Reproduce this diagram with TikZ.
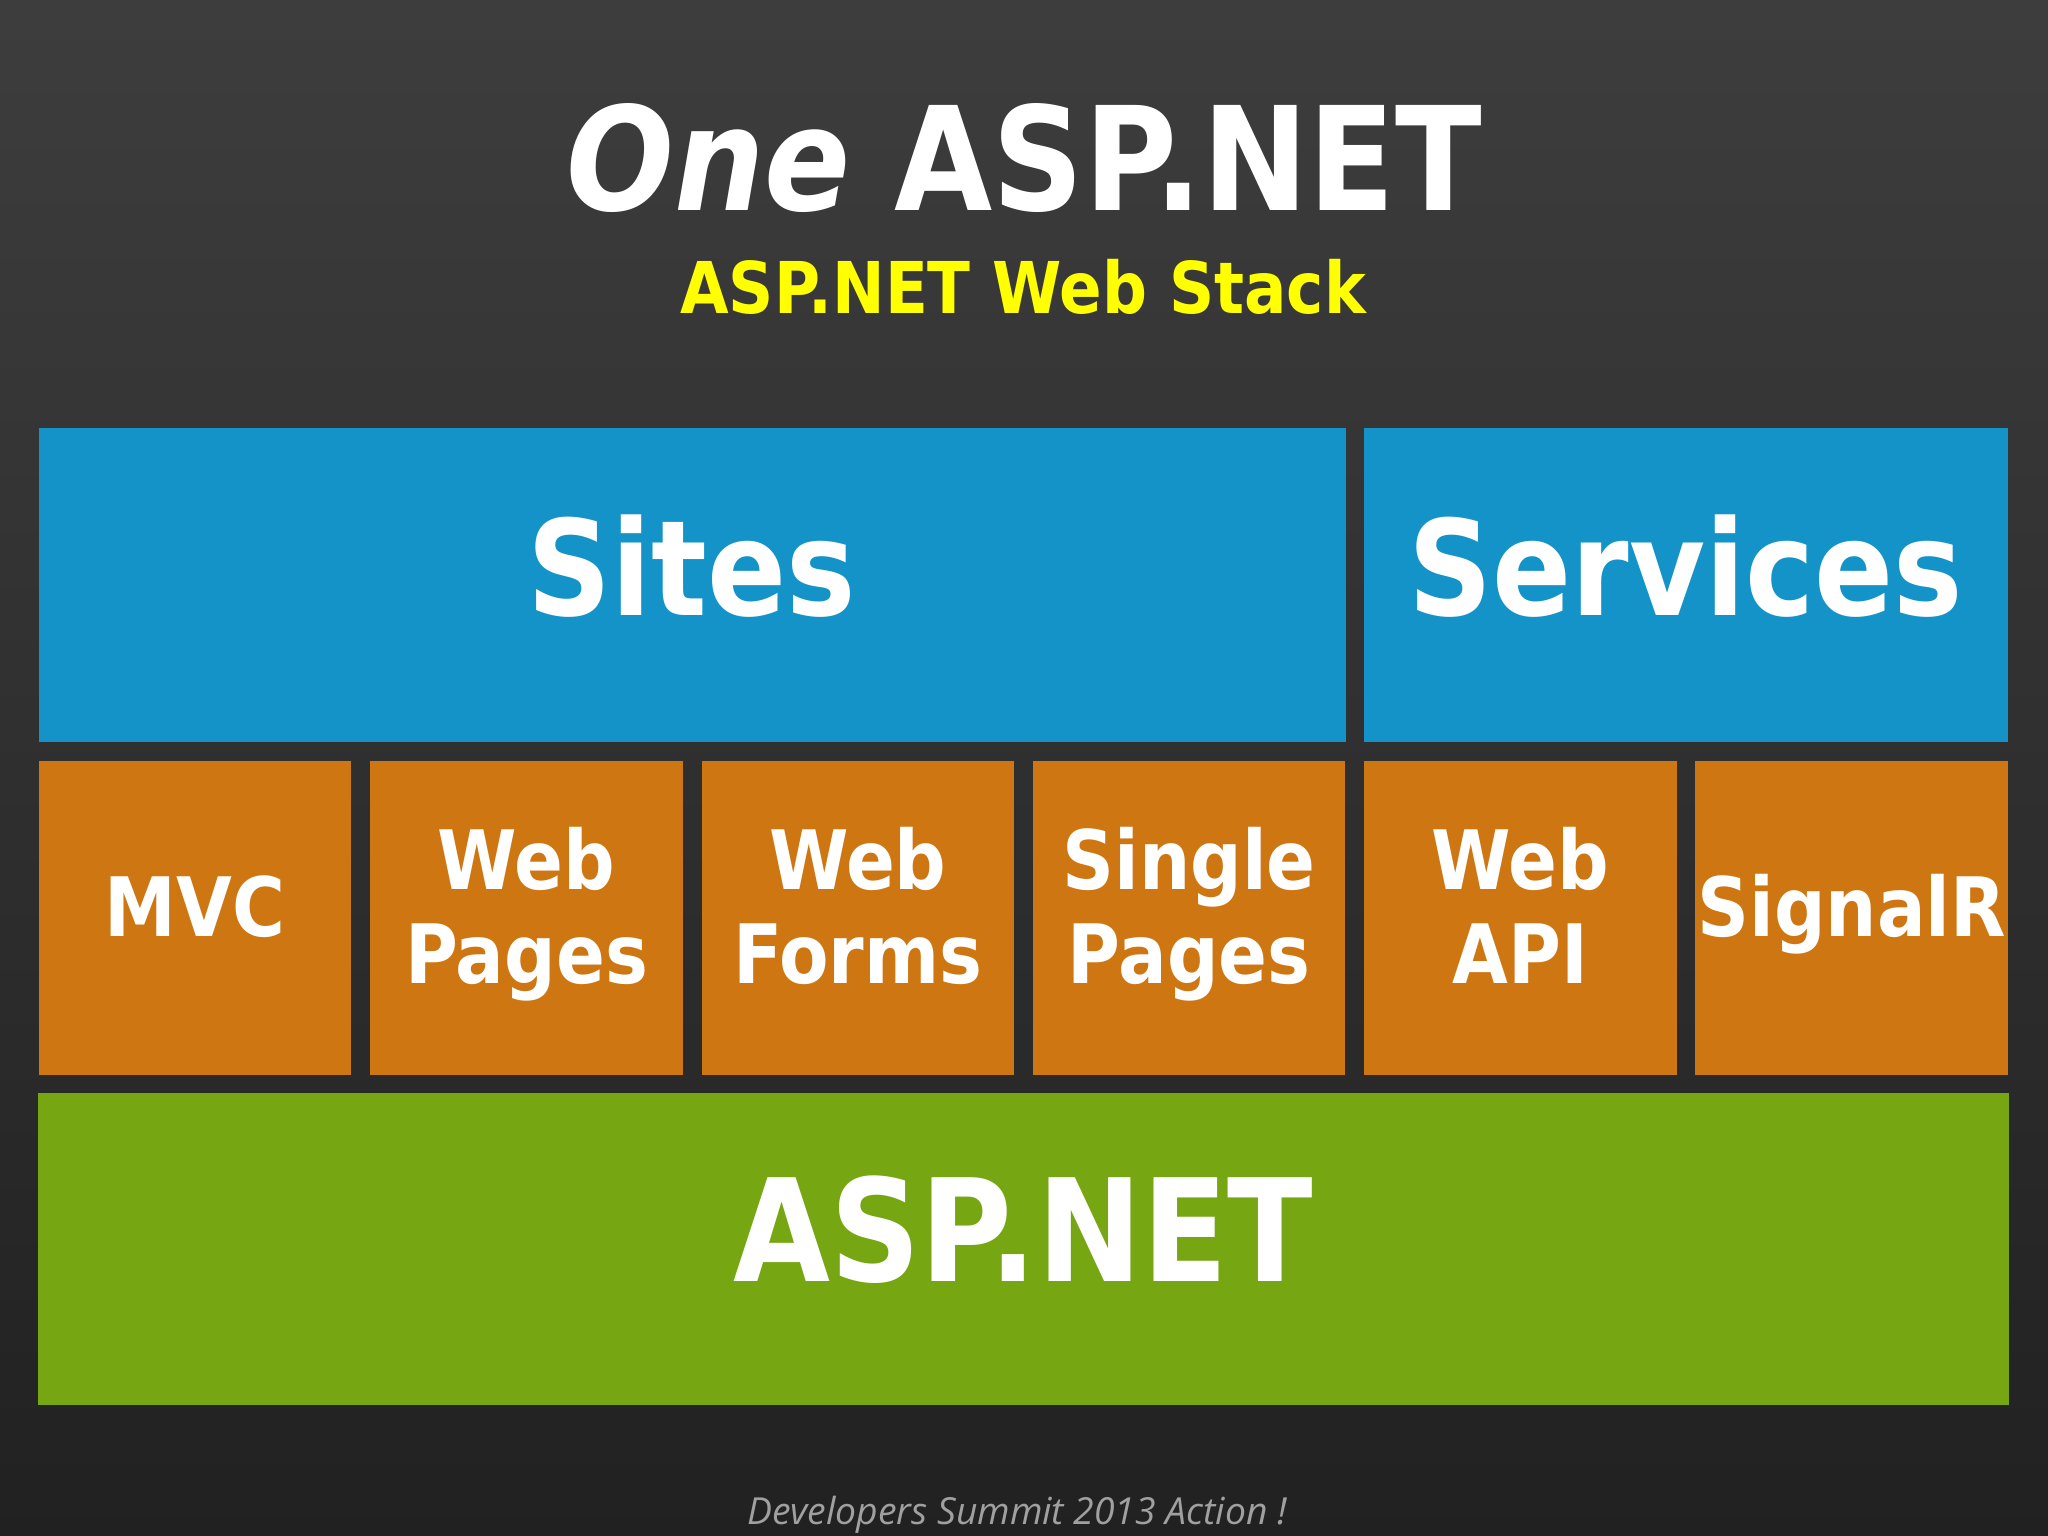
\documentclass[tikz,border=0pt]{standalone}
\usepackage{fontspec}
\newfontfamily\tahoma[FakeStretch=0.88]{DejaVu Sans}
\newfontfamily\footfont{Open Sans}
\definecolor{sitesblue}{HTML}{1393C8}
\definecolor{tileorange}{HTML}{CE7612}
\definecolor{coregreen}{HTML}{76A712}
\definecolor{subyellow}{HTML}{FFFF00}
\definecolor{footgray}{HTML}{A0A0A0}
\tikzstyle{tile} = [inner sep=0pt, text=white, align=center, minimum width=3.123cm, minimum height=3.14cm, font=\tahoma\bfseries\fontsize{23.3}{26.7}\selectfont]
\tikzstyle{bigtile} = [tile, font=\tahoma\bfseries\fontsize{37.7}{44}\selectfont]

\begin{document}
\begin{tikzpicture}[x=0.01cm,y=-0.01cm]
    \shade[top color=black!76, bottom color=black!87] (0,0) rectangle (2048,1536);
    \useasboundingbox (0,0) rectangle (2048,1536);
    % heading
    \node[text=white, font=\tahoma\bfseries\fontsize{41}{48}\selectfont] (title) at (1024,158) {\textit{One} ASP.NET};
    \node[text=subyellow, font=\tahoma\bfseries\fontsize{20.3}{24}\selectfont] (subtitle) at (1023,287) {ASP.NET Web Stack};
    % top row
    \node[bigtile, fill=sitesblue, minimum width=13.062cm] (sites) at (692.1,585) {Sites\strut};
    \node[bigtile, fill=sitesblue, minimum width=6.438cm] (services) at (1686.1,585) {Services\strut};
    % middle row
    \node[tile, fill=tileorange] (mvc) at (195.2,918) {MVC\strut};
    \node[tile, fill=tileorange] (webpages) at (526.5,918) {Web\strut\\Pages\strut};
    \node[tile, fill=tileorange] (webforms) at (857.8,918) {Web\strut\\Forms\strut};
    \node[tile, fill=tileorange] (singlepages) at (1189.1,918) {Single\strut\\Pages\strut};
    \node[tile, fill=tileorange] (webapi) at (1520.4,918) {Web\strut\\API\strut};
    \node[tile, fill=tileorange] (signalr) at (1851.7,918) {SignalR\strut};
    % bottom row
    \node[bigtile, fill=coregreen, minimum width=19.69cm, minimum height=3.12cm, font=\tahoma\bfseries\fontsize{40.5}{46}\selectfont] (aspnet) at (1023.5,1249) {ASP.NET\strut};
    \node[text=footgray, font=\footfont\itshape\fontsize{10.6}{13}\selectfont] (footer) at (1017,1515) {Developers Summit 2013 Action !};
\end{tikzpicture}
\end{document}
